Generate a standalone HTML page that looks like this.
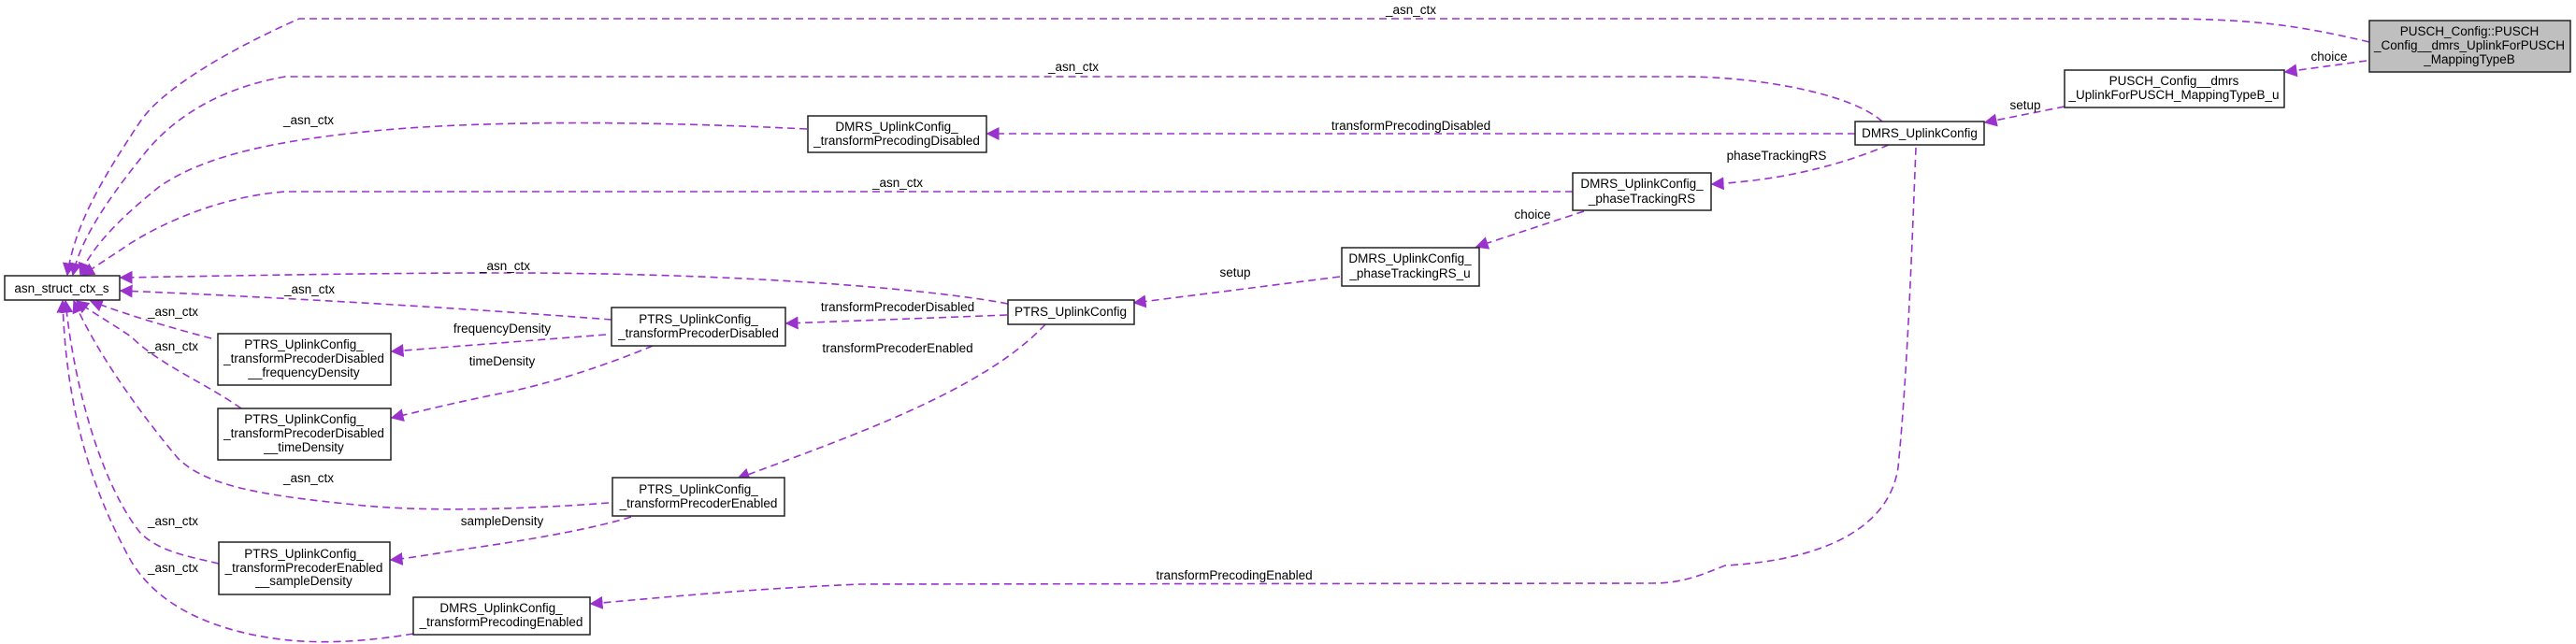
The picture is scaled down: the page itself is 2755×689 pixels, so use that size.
<!DOCTYPE html>
<html><head><meta charset="utf-8"><style>
html,body{margin:0;padding:0;background:#fff;}
svg{display:block;font-family:"Liberation Sans",Arial,sans-serif;font-size:13.5px;}
.e{fill:none;stroke:#9a32cd;stroke-width:1.6;stroke-dasharray:8,5;}
.b{fill:#fff;stroke:#222;stroke-width:1.5;}
.l{fill:#000;text-anchor:middle;}
</style></head><body>
<svg width="2755" height="689" viewBox="0 0 2755 689" xmlns="http://www.w3.org/2000/svg">
<defs><marker id="a" viewBox="0 0 10 10" refX="9" refY="5" markerWidth="14" markerHeight="14" markerUnits="userSpaceOnUse" orient="auto"><path d="M0,0L10,5L0,10z" fill="#9a32cd"/></marker></defs>

<path class="e" marker-end="url(#a)" d="M2534,45 C2450,25 2400,20 2300,20 L320,20 C230,60 170,100 150,130 C110,190 80,240 72,294"/>
<text class="l" x="1509" y="15">_asn_ctx</text>
<path class="e" marker-end="url(#a)" d="M2013,130 C1980,100 1880,82 1800,82 L305,82 C230,95 180,130 150,170 C110,220 85,260 78,294"/>
<text class="l" x="1148" y="76">_asn_ctx</text>
<path class="e" marker-end="url(#a)" d="M863,138 C700,130 528,128 400,140 C300,150 220,165 170,200 C120,240 95,270 86,294"/>
<text class="l" x="330" y="133">_asn_ctx</text>
<path class="e" marker-end="url(#a)" d="M1682,205 L305,205 C240,210 180,235 140,260 C110,280 95,290 88,294"/>
<text class="l" x="960" y="200">_asn_ctx</text>
<path class="e" marker-end="url(#a)" d="M1078,325 C1000,310 800,292 540,292 C400,292 250,295 129,297"/>
<text class="l" x="540" y="289">_asn_ctx</text>
<path class="e" marker-end="url(#a)" d="M654,342 C500,330 300,318 129,311"/>
<text class="l" x="331" y="314">_asn_ctx</text>
<path class="e" marker-end="url(#a)" d="M226,362 C180,350 130,335 97,322"/>
<text class="l" x="185" y="338">_asn_ctx</text>
<path class="e" marker-end="url(#a)" d="M258,437 C220,410 170,390 140,360 C110,340 95,332 82,322"/>
<text class="l" x="185" y="375">_asn_ctx</text>
<path class="e" marker-end="url(#a)" d="M651,538 C560,545 450,548 380,540 C280,530 220,520 190,490 C140,430 100,370 79,322"/>
<text class="l" x="330" y="516">_asn_ctx</text>
<path class="e" marker-end="url(#a)" d="M234,603 C200,595 170,590 150,570 C110,520 80,420 70,322"/>
<text class="l" x="185" y="562">_asn_ctx</text>
<path class="e" marker-end="url(#a)" d="M442,678 C400,685 350,690 300,684 C230,675 170,650 140,600 C90,510 70,420 67,322"/>
<text class="l" x="185" y="612">_asn_ctx</text>

<path class="e" marker-end="url(#a)" d="M2531,65 L2444,77"/>
<text class="l" x="2491" y="65">choice</text>
<path class="e" marker-end="url(#a)" d="M2208,114 L2123,131"/>
<text class="l" x="2166" y="117">setup</text>
<path class="e" marker-end="url(#a)" d="M1984,143 L1056,143"/>
<text class="l" x="1509" y="139">transformPrecodingDisabled</text>
<path class="e" marker-end="url(#a)" d="M2020,155 C1960,180 1900,193 1831,197"/>
<text class="l" x="1900" y="171">phaseTrackingRS</text>
<path class="e" marker-end="url(#a)" d="M1694,226 L1579,264"/>
<text class="l" x="1639" y="234">choice</text>
<path class="e" marker-end="url(#a)" d="M1433,296 L1213,324"/>
<text class="l" x="1321" y="296">setup</text>
<path class="e" marker-end="url(#a)" d="M1077,337 C1000,340 920,343 841,346"/>
<text class="l" x="960" y="333">transformPrecoderDisabled</text>
<path class="e" marker-end="url(#a)" d="M1118,347 C1050,420 900,470 789,512"/>
<text class="l" x="960" y="377">transformPrecoderEnabled</text>
<path class="e" marker-end="url(#a)" d="M648,358 L419,376"/>
<text class="l" x="537" y="356">frequencyDensity</text>
<path class="e" marker-end="url(#a)" d="M698,370 C650,390 587,411 540,420 C480,432 450,440 419,447"/>
<text class="l" x="537" y="391">timeDensity</text>
<path class="e" marker-end="url(#a)" d="M675,553 C620,570 528,583 480,590 C450,595 430,598 418,599"/>
<text class="l" x="537" y="562">sampleDensity</text>
<path class="e" marker-end="url(#a)" d="M2049,158 C2045,260 2040,400 2030,500 C2020,570 1940,600 1845,605 C1820,615 1800,624 1767,624 L920,625 C800,630 700,640 632,646"/>
<text class="l" x="1320" y="620">transformPrecodingEnabled</text>

<rect class="b" x="5" y="295" width="123" height="26"/>
<text class="l" x="66" y="313">asn_struct_ctx_s</text>

<rect class="b" x="864" y="124" width="191" height="39"/>
<text class="l" x="959" y="140">DMRS_UplinkConfig_</text>
<text class="l" x="959" y="155">_transformPrecodingDisabled</text>

<rect class="b" x="1682" y="185" width="148" height="40"/>
<text class="l" x="1756" y="201">DMRS_UplinkConfig_</text>
<text class="l" x="1756" y="217">_phaseTrackingRS</text>

<rect class="b" x="1435" y="265" width="147" height="41"/>
<text class="l" x="1508" y="281">DMRS_UplinkConfig_</text>
<text class="l" x="1508" y="297">_phaseTrackingRS_u</text>

<rect class="b" x="1078" y="321" width="135" height="26"/>
<text class="l" x="1145" y="338">PTRS_UplinkConfig</text>

<rect class="b" x="654" y="329" width="186" height="41"/>
<text class="l" x="747" y="346">PTRS_UplinkConfig_</text>
<text class="l" x="747" y="361">_transformPrecoderDisabled</text>

<rect class="b" x="233" y="357" width="185" height="55"/>
<text class="l" x="325" y="373">PTRS_UplinkConfig_</text>
<text class="l" x="325" y="388">_transformPrecoderDisabled</text>
<text class="l" x="325" y="403">__frequencyDensity</text>

<rect class="b" x="233" y="437" width="185" height="55"/>
<text class="l" x="325" y="453">PTRS_UplinkConfig_</text>
<text class="l" x="325" y="468">_transformPrecoderDisabled</text>
<text class="l" x="325" y="483">__timeDensity</text>

<rect class="b" x="655" y="511" width="184" height="41"/>
<text class="l" x="747" y="528">PTRS_UplinkConfig_</text>
<text class="l" x="747" y="543">_transformPrecoderEnabled</text>

<rect class="b" x="234" y="580" width="183" height="56"/>
<text class="l" x="325" y="597">PTRS_UplinkConfig_</text>
<text class="l" x="325" y="612">_transformPrecoderEnabled</text>
<text class="l" x="325" y="626">__sampleDensity</text>

<rect class="b" x="442" y="639" width="189" height="40"/>
<text class="l" x="536" y="655">DMRS_UplinkConfig_</text>
<text class="l" x="536" y="670">_transformPrecodingEnabled</text>

<rect x="2534" y="22" width="215" height="55" fill="#bfbfbf" stroke="#222" stroke-width="1.5"/>
<text class="l" x="2641" y="38">PUSCH_Config::PUSCH</text>
<text class="l" x="2641" y="53">_Config__dmrs_UplinkForPUSCH</text>
<text class="l" x="2641" y="68">_MappingTypeB</text>

<rect class="b" x="2208" y="75" width="235" height="40"/>
<text class="l" x="2325" y="91">PUSCH_Config__dmrs</text>
<text class="l" x="2325" y="106">_UplinkForPUSCH_MappingTypeB_u</text>

<rect class="b" x="1984" y="130" width="138" height="25"/>
<text class="l" x="2053" y="147">DMRS_UplinkConfig</text>
</svg>
</body></html>
